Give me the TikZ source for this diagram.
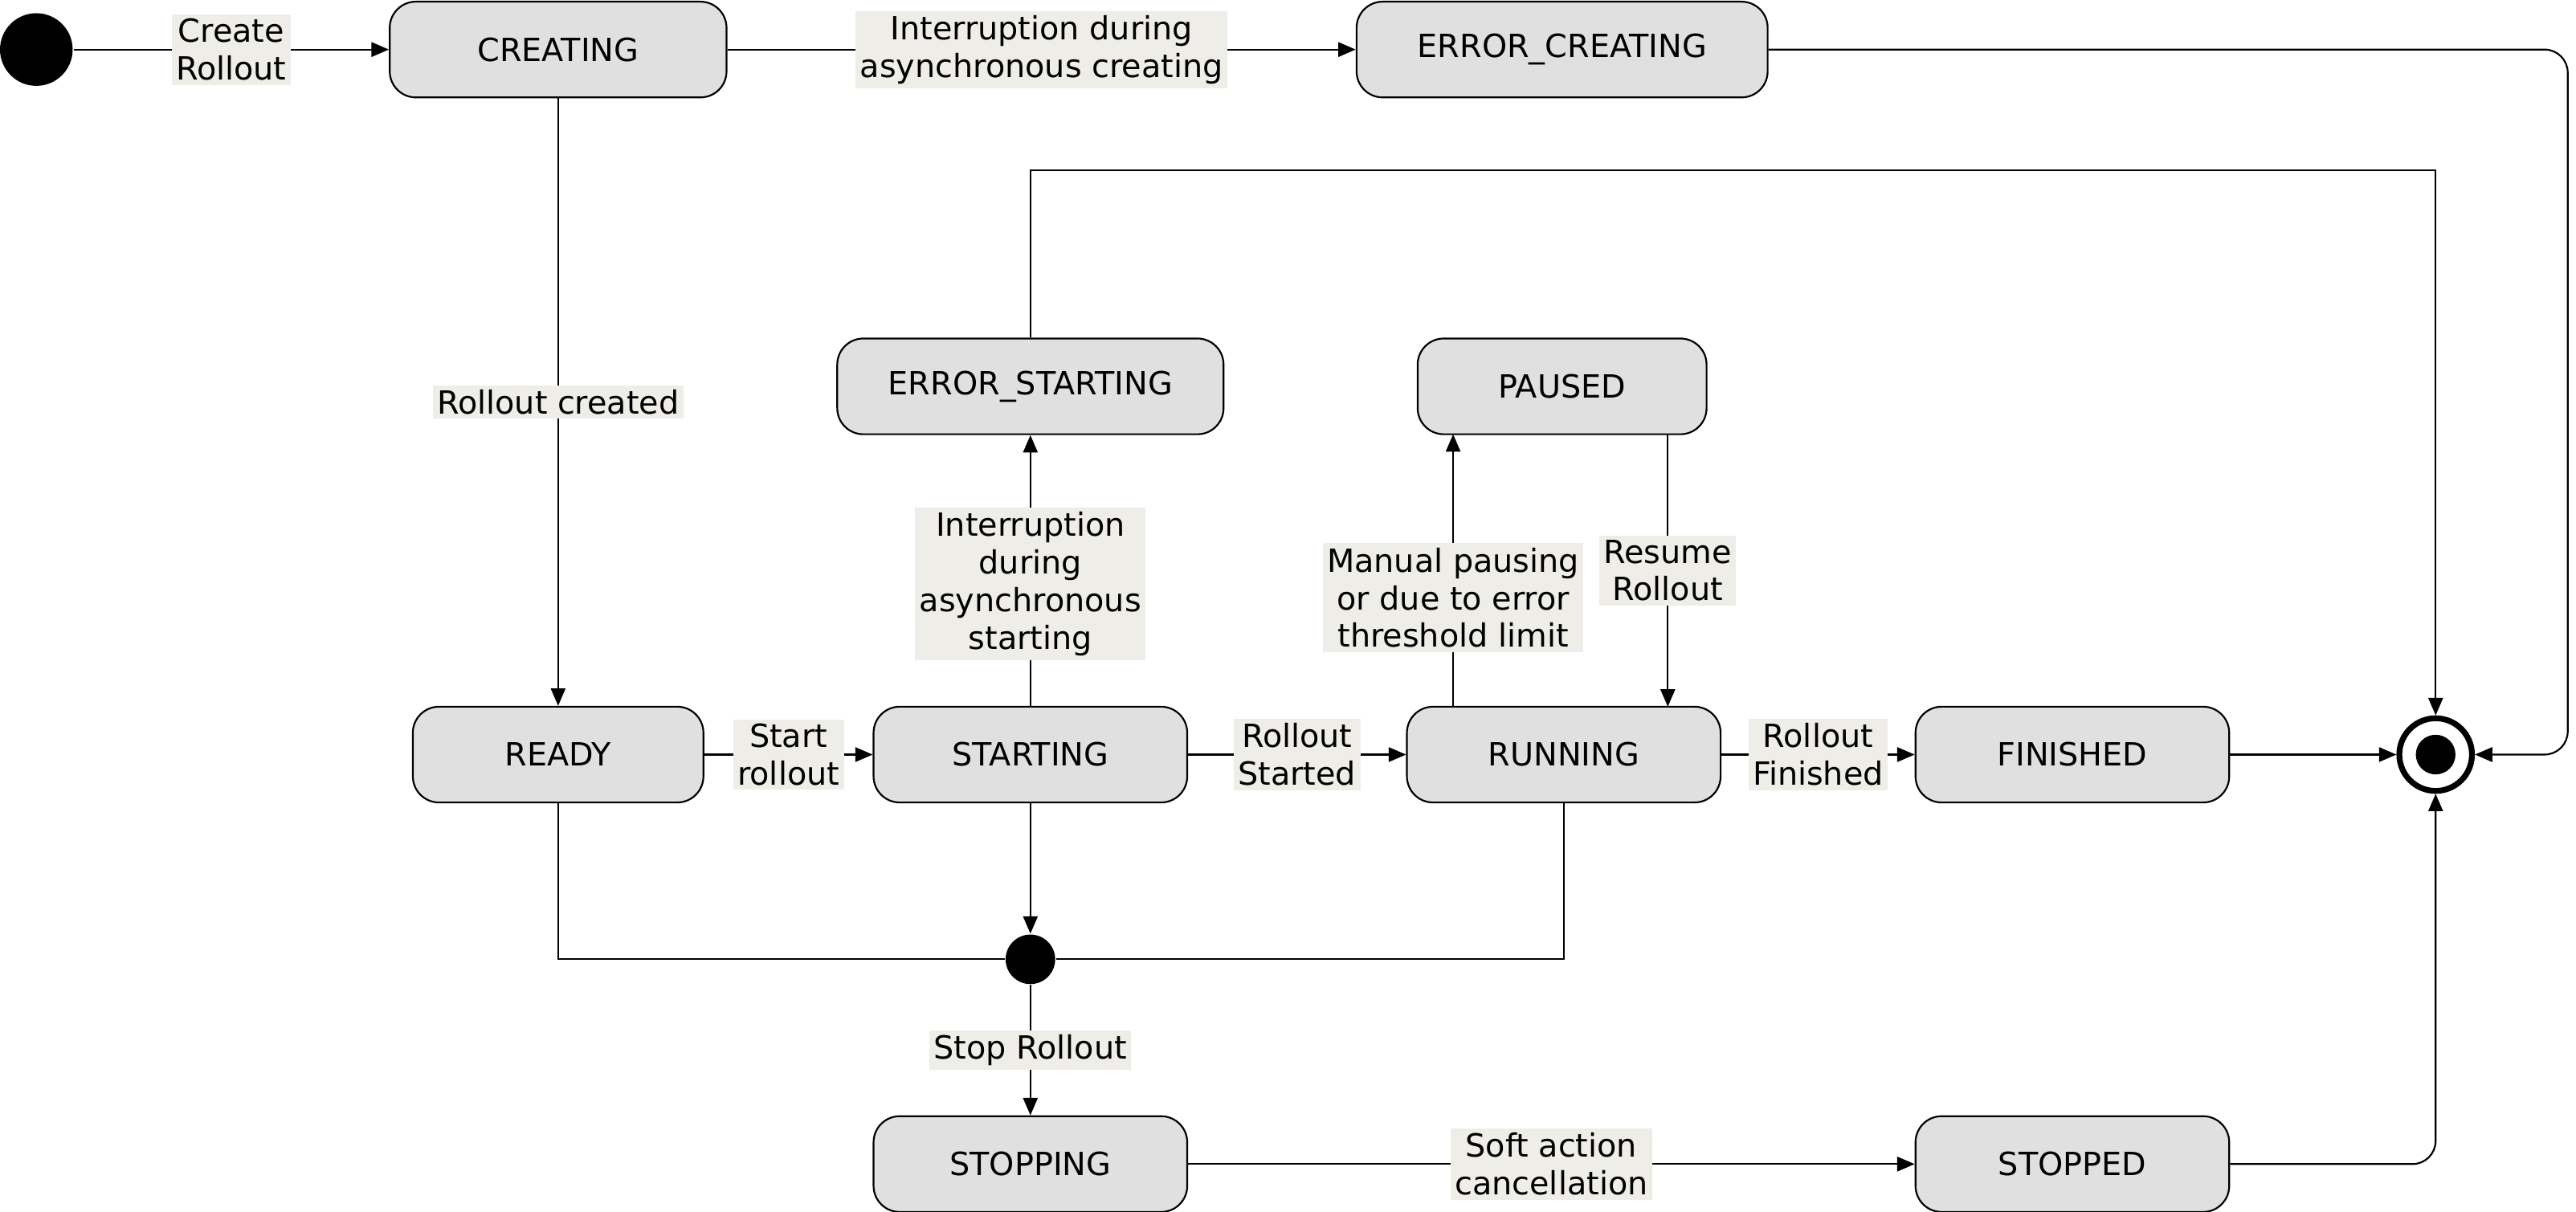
\documentclass[tikz,border=0pt]{standalone}
\usepackage{fontspec}
\setmainfont{DejaVu Sans}
\usetikzlibrary{arrows.meta}

\definecolor{lblbg}{RGB}{238,237,232}

\tikzset{
	state/.style={draw=black, fill=black!12, rounded corners=9pt, minimum height=1.16cm, inner sep=0pt, font=\fontsize{11}{13}\selectfont},
	lbl/.style={fill=lblbg, inner sep=1.5pt, align=center, font=\fontsize{11}{13}\selectfont},
	arr/.style={-{Triangle[length=6pt,width=5pt]}},
}

\begin{document}
\begin{tikzpicture}[x=0.02cm, y=-0.02cm, line width=0.6pt]
	\useasboundingbox (0,0) rectangle (1560,734);

	\node[shape=circle, fill=black, minimum size=0.88cm] (init) at (22, 30) {};
	\node[state, minimum width=4.08cm] (creating) at (338, 30) {CREATING};
	\node[state, minimum width=4.98cm] (errcreating) at (946, 30) {ERROR\_CREATING};

	\node[state, minimum width=4.68cm] (errstarting) at (624, 234) {ERROR\_STARTING};
	\node[state, minimum width=3.5cm] (paused) at (946, 234) {PAUSED};

	\node[state, minimum width=3.52cm] (ready) at (338, 457) {READY};
	\node[state, minimum width=3.8cm] (starting) at (624, 457) {STARTING};
	\node[state, minimum width=3.8cm] (running) at (947, 457) {RUNNING};
	\node[state, minimum width=3.8cm] (finished) at (1255, 457) {FINISHED};

	\node[shape=circle, draw=black, line width=2pt, minimum size=0.88cm] (final) at (1475, 457) {};
	\node[shape=circle, fill=black, minimum size=0.48cm] at (1475, 457) {};

	\node[shape=circle, fill=black, minimum size=0.6cm] (junction) at (624, 581) {};

	\node[state, minimum width=3.8cm] (stopping) at (624, 705) {STOPPING};
	\node[state, minimum width=3.8cm] (stopped) at (1255, 705) {STOPPED};

	\coordinate (pr) at (880, 428);
	\coordinate (pp) at (880, 263);
	\coordinate (qp) at (1010, 263);
	\coordinate (qr) at (1010, 428);

	\path [arr] (init) edge node[lbl] {Create\\Rollout} (creating);
	\path [arr] (creating) edge node[lbl] {Interruption during\\asynchronous creating} (errcreating);
	\path [arr] (creating) edge node[lbl] {Rollout created} (ready);
	\path [arr] (ready) edge node[lbl] {Start\\rollout} (starting);
	\path [arr] (starting) edge node[lbl, pos=0.45] {Interruption\\during\\asynchronous\\starting} (errstarting);
	\path [arr] (starting) edge node[lbl] {Rollout\\Started} (running);
	\path [arr] (pr) edge node[lbl, pos=0.4] {Manual pausing\\or due to error\\threshold limit} (pp);
	\path [arr] (qp) edge node[lbl, pos=0.5] {Resume\\Rollout} (qr);
	\path [arr] (running) edge node[lbl] {Rollout\\Finished} (finished);
	\path [arr] (finished) edge (final);

	\draw [arr, rounded corners=8pt] (errcreating) -| (1555, 457) -- (final);
	\draw [arr] (errstarting) |- (1475, 103) -- (final);

	\draw (ready) |- (junction);
	\draw (running) |- (junction);
	\path [arr] (starting) edge (junction);
	\path [arr] (junction) edge node[lbl] {Stop Rollout} (stopping);
	\path [arr] (stopping) edge node[lbl] {Soft action\\cancellation} (stopped);
	\draw [arr, rounded corners=8pt] (stopped) -| (final);
\end{tikzpicture}
\end{document}
